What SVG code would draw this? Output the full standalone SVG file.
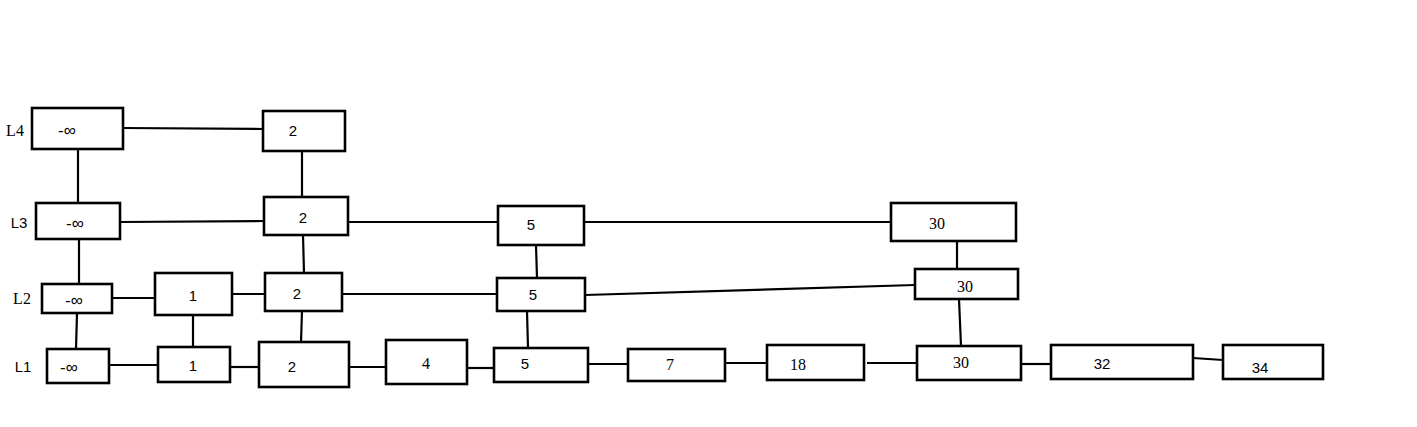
<svg xmlns="http://www.w3.org/2000/svg" width="1417" height="427" viewBox="0 0 1417 427">
<style>
.b{fill:#fff;stroke:#000;stroke-width:2.6}
.c line{stroke:#000;stroke-width:2.2}
.s{font-family:"Liberation Sans",Arial,sans-serif;font-size:15px;fill:#000;text-anchor:middle;dominant-baseline:central}
.n{font-family:"Liberation Sans",Arial,sans-serif;font-size:17px;fill:#000;text-anchor:middle;dominant-baseline:central}
.r{font-family:"Liberation Serif","Times New Roman",serif;font-size:16px;fill:#000;text-anchor:middle;dominant-baseline:central}
</style>
<rect width="1417" height="427" fill="#fff"/>
<g id="labels">
<text class="r" x="15" y="130">L4</text>
<text class="s" x="19" y="222">L3</text>
<text class="r" x="22" y="298">L2</text>
<text class="s" x="23" y="366">L1</text>
</g>
<g class="c" id="connectors">
<line x1="123" y1="128" x2="263" y2="129"/>
<line x1="78" y1="149" x2="78" y2="203"/>
<line x1="302" y1="151" x2="302" y2="197"/>
<line x1="120" y1="222" x2="264" y2="221"/>
<line x1="348" y1="222" x2="498" y2="222"/>
<line x1="584" y1="222" x2="891" y2="222"/>
<line x1="79" y1="239" x2="79" y2="284"/>
<line x1="303" y1="235" x2="304" y2="273"/>
<line x1="536" y1="245" x2="537" y2="278"/>
<line x1="957" y1="241" x2="957" y2="269"/>
<line x1="112" y1="298" x2="155" y2="298"/>
<line x1="232" y1="294" x2="265" y2="294"/>
<line x1="342" y1="294" x2="497" y2="294"/>
<line x1="585" y1="295" x2="915" y2="285"/>
<line x1="77" y1="313" x2="76" y2="349"/>
<line x1="193" y1="315" x2="193" y2="347"/>
<line x1="302" y1="311" x2="301" y2="342"/>
<line x1="527" y1="311" x2="528" y2="348"/>
<line x1="959" y1="299" x2="961" y2="346"/>
<line x1="109" y1="365" x2="158" y2="365"/>
<line x1="230" y1="367" x2="259" y2="367"/>
<line x1="349" y1="367" x2="386" y2="367"/>
<line x1="467" y1="368" x2="494" y2="368"/>
<line x1="588" y1="364" x2="628" y2="364"/>
<line x1="725" y1="363" x2="767" y2="363"/>
<line x1="867" y1="363" x2="917" y2="363"/>
<line x1="1021" y1="364" x2="1051" y2="364"/>
<line x1="1193" y1="358" x2="1223" y2="360"/>
</g>
<g id="L4-ninf"><rect class="b" x="32" y="108" width="91" height="41"/><text class="n" x="67" y="130">-∞</text></g>
<g id="L4-2"><rect class="b" x="263" y="111" width="82" height="40"/><text class="s" x="293" y="130">2</text></g>
<g id="L3-ninf"><rect class="b" x="36" y="203" width="84" height="36"/><text class="n" x="75" y="223">-∞</text></g>
<g id="L3-2"><rect class="b" x="264" y="197" width="84" height="38"/><text class="s" x="303" y="217">2</text></g>
<g id="L3-5"><rect class="b" x="498" y="206" width="86" height="39"/><text class="s" x="531" y="224">5</text></g>
<g id="L3-30"><rect class="b" x="891" y="203" width="125" height="38"/><text class="r" x="937" y="223">30</text></g>
<g id="L2-ninf"><rect class="b" x="42" y="284" width="70" height="29"/><text class="n" x="74" y="300">-∞</text></g>
<g id="L2-1"><rect class="b" x="155" y="273" width="77" height="42"/><text class="s" x="193" y="295">1</text></g>
<g id="L2-2"><rect class="b" x="265" y="273" width="77" height="38"/><text class="s" x="297" y="293">2</text></g>
<g id="L2-5"><rect class="b" x="497" y="278" width="88" height="33"/><text class="s" x="533" y="294">5</text></g>
<g id="L2-30"><rect class="b" x="915" y="269" width="103" height="30"/><text class="r" x="965" y="286">30</text></g>
<g id="L1-ninf"><rect class="b" x="47" y="349" width="62" height="34"/><text class="n" x="69" y="367">-∞</text></g>
<g id="L1-1"><rect class="b" x="158" y="347" width="72" height="35"/><text class="s" x="193" y="365">1</text></g>
<g id="L1-2"><rect class="b" x="259" y="342" width="90" height="45"/><text class="s" x="292" y="366">2</text></g>
<g id="L1-4"><rect class="b" x="386" y="340" width="81" height="44"/><text class="r" x="426" y="363">4</text></g>
<g id="L1-5"><rect class="b" x="494" y="348" width="94" height="34"/><text class="s" x="525" y="363">5</text></g>
<g id="L1-7"><rect class="b" x="628" y="349" width="97" height="32"/><text class="r" x="670" y="364">7</text></g>
<g id="L1-18"><rect class="b" x="767" y="345" width="97" height="35"/><text class="r" x="798" y="364">18</text></g>
<g id="L1-30"><rect class="b" x="917" y="346" width="104" height="34"/><text class="r" x="961" y="362">30</text></g>
<g id="L1-32"><rect class="b" x="1051" y="345" width="142" height="34"/><text class="s" x="1102" y="363">32</text></g>
<g id="L1-34"><rect class="b" x="1223" y="345" width="100" height="34"/><text class="s" x="1260" y="367">34</text></g>
</svg>
